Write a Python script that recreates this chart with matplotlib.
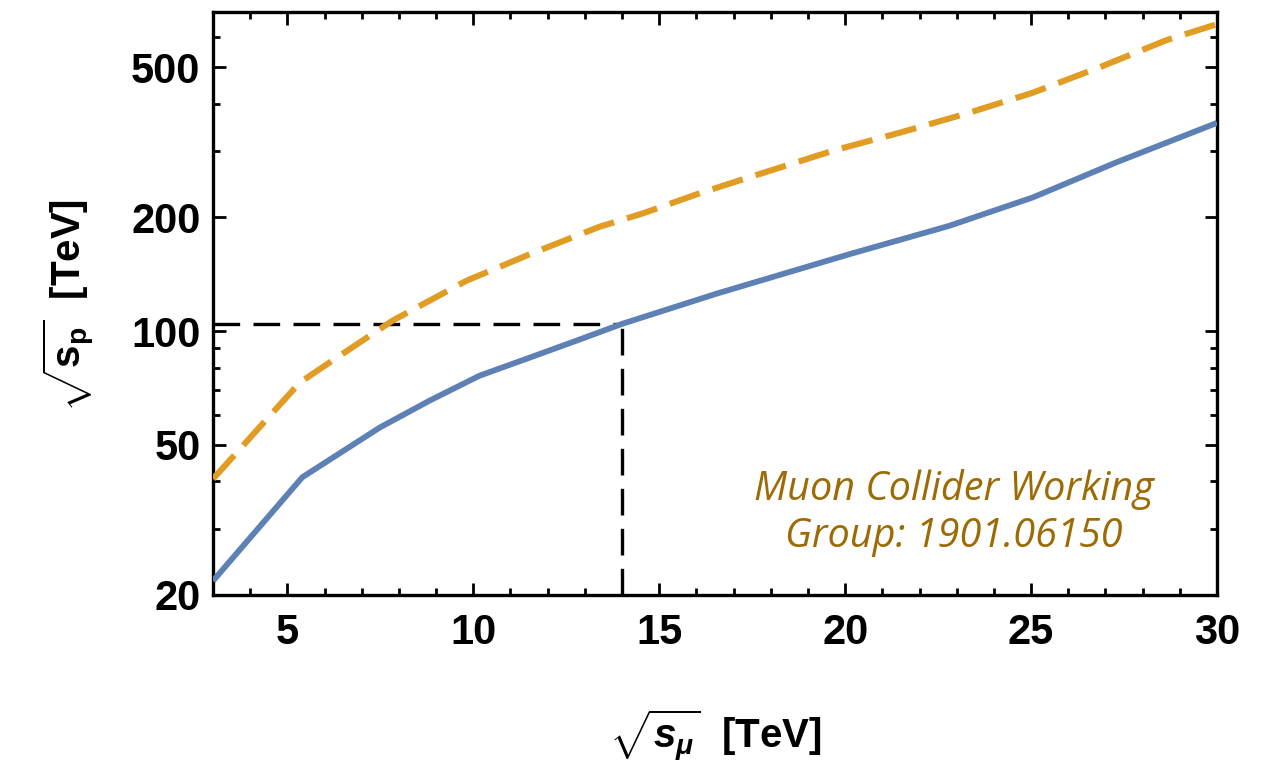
import matplotlib
matplotlib.use("Agg")
import matplotlib.pyplot as plt
from matplotlib.ticker import FixedLocator, LogLocator, MultipleLocator, NullFormatter, FixedFormatter

plt.rcParams['font.family'] = ['Liberation Sans', 'DejaVu Sans']
plt.rcParams['mathtext.fontset'] = 'custom'
plt.rcParams['mathtext.rm'] = 'Liberation Sans:bold'
plt.rcParams['mathtext.bf'] = 'Liberation Sans:bold'
plt.rcParams['mathtext.it'] = 'Liberation Sans:bold:italic'

# Equivalent proton-collider energy vs. muon-collider energy (TeV)
mu_energy_a = [3, 5.4, 7.48, 8.82, 10.17, 11.51, 12.86, 14, 16.55, 20.13, 22.8, 25.05, 27.3, 30]
proton_a = [21.8, 41, 55.5, 65.4, 76.2, 85, 95, 104.5, 125.7, 160, 190, 226, 280, 356]

mu_energy_b = [3, 5.33, 6.2, 7.83, 9.82, 11.6, 13.4, 14.56, 16.1, 17.45, 19.7, 21.5,
               23.27, 25.05, 26.85, 28.65, 30]
proton_b = [40.6, 73, 83.4, 106.6, 136, 161, 189, 205, 232, 256, 301, 336,
            377, 428, 500, 590, 650]

# Reference point marked with guide lines
ref_mu = 14
ref_p = 104.5

y_ticks = [20, 50, 100, 200, 500]
y_tick_labels = ["20", "50", "100", "200", "500"]
x_ticks = [5, 10, 15, 20, 25, 30]

blue = "#5E81B5"
orange = "#E19C24"
note_color = "#9D6B05"

fig = plt.figure(figsize=(12.63, 7.68), dpi=100)
ax = fig.add_axes([213 / 1263, 1 - 595 / 768, (1217 - 213) / 1263, (595 - 12) / 768])

ax.set_yscale("log")
ax.set_xlim(3, 30)
ax.set_ylim(20, 700)

ax.plot([3, ref_mu], [ref_p, ref_p], color="black", lw=2.4, dashes=(8, 4), zorder=2)
ax.plot([ref_mu, ref_mu], [20, ref_p], color="black", lw=2.4, dashes=(8, 4), zorder=2)

ax.plot(mu_energy_a, proton_a, color=blue, lw=4.2, solid_capstyle="butt",
        solid_joinstyle="round", zorder=3)
ax.plot(mu_energy_b, proton_b, color=orange, lw=4.4, dashes=(5.2, 2.2), zorder=3)

ax.yaxis.set_major_locator(FixedLocator(y_ticks))
ax.yaxis.set_major_formatter(FixedFormatter(y_tick_labels))
ax.yaxis.set_minor_locator(LogLocator(base=10, subs=[1, 2, 3, 4, 5, 6, 7, 8, 9]))
ax.yaxis.set_minor_formatter(NullFormatter())
ax.xaxis.set_major_locator(FixedLocator(x_ticks))
ax.xaxis.set_minor_locator(MultipleLocator(1))

for s in ax.spines.values():
    s.set_linewidth(2.4)

ax.tick_params(which="both", direction="in", top=True, right=True, width=2.0)
ax.tick_params(which="major", length=9, labelsize=30, pad=9)
ax.tick_params(which="minor", length=5)
for lab in ax.get_xticklabels() + ax.get_yticklabels():
    lab.set_fontweight("bold")
ax.tick_params(axis="x", which="major", pad=13)

fig.text(715 / 1263, 1 - 735 / 768, r"$\sqrt{s_{\mu}}$  [TeV]", ha="center", va="center",
         fontsize=29, fontweight="bold")
fig.text(68 / 1263, 1 - 305 / 768, r"$\sqrt{\mathrm{s_{p}}}$  [TeV]", ha="center", va="center",
         fontsize=29, fontweight="bold", rotation=90)

fig.text(954 / 1263, 1 - 513 / 768, "Muon Collider Working\nGroup: 1901.06150",
         ha="center", va="center", fontsize=28.5, style="italic", color=note_color,
         family=["Open Sans", "DejaVu Sans"], linespacing=1.2)

fig.savefig("out.png", dpi=100)
